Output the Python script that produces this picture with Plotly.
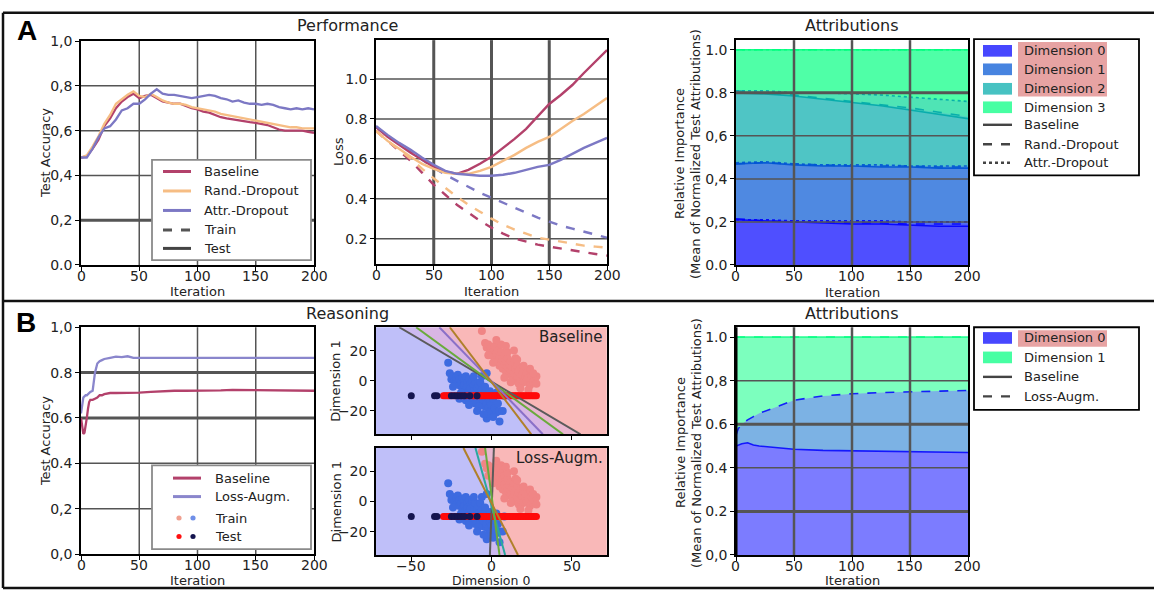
import numpy as np
import plotly.graph_objects as go

W, H = 1154, 599
FONT = "DejaVu Sans"


def fx(x):
    return x / W


def fy(y):
    return 1 - y / H


# ---------------- Panel A: performance ----------------
acc_iter = list(range(0, 201, 5))
acc_baseline = [0.48, 0.485, 0.52, 0.56, 0.62, 0.655, 0.70, 0.73, 0.75, 0.765, 0.745, 0.755, 0.76, 0.745,
                0.73, 0.725, 0.72, 0.72, 0.71, 0.70, 0.695, 0.685, 0.68, 0.67, 0.66, 0.655, 0.65, 0.648,
                0.64, 0.638, 0.635, 0.63, 0.625, 0.615, 0.605, 0.60, 0.60, 0.598, 0.60, 0.595, 0.59]
acc_rand = [0.48, 0.49, 0.53, 0.575, 0.63, 0.67, 0.72, 0.74, 0.76, 0.775, 0.755, 0.75, 0.765, 0.75,
            0.735, 0.725, 0.72, 0.72, 0.715, 0.705, 0.70, 0.695, 0.69, 0.685, 0.675, 0.67, 0.665, 0.66,
            0.655, 0.65, 0.645, 0.64, 0.635, 0.63, 0.625, 0.62, 0.615, 0.615, 0.61, 0.61, 0.61]
acc_attr = [0.48, 0.48, 0.52, 0.57, 0.61, 0.62, 0.65, 0.69, 0.70, 0.72, 0.72, 0.74, 0.765, 0.785,
            0.765, 0.76, 0.76, 0.755, 0.75, 0.745, 0.75, 0.755, 0.76, 0.755, 0.745, 0.74, 0.73, 0.735,
            0.725, 0.72, 0.72, 0.715, 0.72, 0.715, 0.705, 0.70, 0.695, 0.70, 0.695, 0.70, 0.695]

loss_iter = list(range(0, 201, 10))
test_loss_baseline = [0.76, 0.71, 0.67, 0.63, 0.595, 0.56, 0.535, 0.525, 0.545, 0.575, 0.61, 0.655,
                      0.70, 0.75, 0.81, 0.875, 0.92, 0.97, 1.03, 1.09, 1.145]
test_loss_rand = [0.74, 0.69, 0.65, 0.61, 0.575, 0.55, 0.53, 0.525, 0.525, 0.54, 0.56, 0.59, 0.62,
                  0.655, 0.685, 0.71, 0.75, 0.79, 0.825, 0.865, 0.905]
test_loss_attr = [0.765, 0.72, 0.68, 0.645, 0.605, 0.57, 0.54, 0.525, 0.52, 0.515, 0.515, 0.52, 0.53,
                  0.545, 0.56, 0.57, 0.595, 0.625, 0.655, 0.68, 0.705]
train_loss_baseline = [0.74, 0.69, 0.64, 0.59, 0.53, 0.47, 0.42, 0.37, 0.33, 0.29, 0.255, 0.225, 0.20,
                       0.185, 0.17, 0.16, 0.15, 0.14, 0.13, 0.123, 0.115]
train_loss_rand = [0.74, 0.69, 0.645, 0.60, 0.55, 0.50, 0.455, 0.41, 0.37, 0.335, 0.30, 0.27, 0.245,
                   0.225, 0.205, 0.195, 0.185, 0.175, 0.165, 0.16, 0.155]
train_loss_attr = [0.76, 0.715, 0.675, 0.635, 0.595, 0.555, 0.52, 0.49, 0.46, 0.43, 0.405, 0.38, 0.355,
                   0.33, 0.305, 0.285, 0.265, 0.25, 0.235, 0.22, 0.205]

attr_iter = [0, 25, 50, 75, 100, 125, 150, 175, 200]
base_dim0 = [0.21, 0.205, 0.20, 0.195, 0.19, 0.19, 0.185, 0.18, 0.18]
base_dim1 = [0.26, 0.27, 0.265, 0.265, 0.27, 0.265, 0.27, 0.27, 0.27]
base_dim2 = [0.33, 0.32, 0.32, 0.31, 0.295, 0.285, 0.265, 0.25, 0.23]
base_dim3 = [0.20, 0.205, 0.215, 0.23, 0.245, 0.26, 0.28, 0.30, 0.32]
rand_dim0 = [0.215, 0.205, 0.20, 0.20, 0.195, 0.195, 0.19, 0.19, 0.19]
rand_dim1 = [0.255, 0.27, 0.27, 0.265, 0.265, 0.265, 0.27, 0.265, 0.265]
rand_dim2 = [0.34, 0.325, 0.32, 0.31, 0.30, 0.285, 0.27, 0.255, 0.235]
rand_dim3 = [0.19, 0.20, 0.21, 0.225, 0.24, 0.255, 0.27, 0.29, 0.31]
attr_dim0 = [0.21, 0.21, 0.205, 0.205, 0.205, 0.205, 0.20, 0.20, 0.20]
attr_dim1 = [0.265, 0.27, 0.265, 0.26, 0.26, 0.26, 0.26, 0.26, 0.26]
attr_dim2 = [0.335, 0.33, 0.33, 0.335, 0.33, 0.325, 0.32, 0.31, 0.30]
attr_dim3 = [0.19, 0.19, 0.20, 0.20, 0.205, 0.21, 0.22, 0.23, 0.24]

# ---------------- Panel B: reasoning ----------------
b_iter = [0, 1, 2, 3, 4, 5, 6, 7, 8, 10, 12, 14, 16, 18, 20, 25, 30, 35, 40, 45, 50, 60, 70, 80, 90,
          100, 110, 120, 130, 140, 150, 160, 170, 180, 190, 200]
b_acc_baseline = [0.60, 0.55, 0.53, 0.535, 0.56, 0.60, 0.64, 0.67, 0.68, 0.68, 0.685, 0.69, 0.70, 0.70,
                  0.705, 0.71, 0.71, 0.71, 0.712, 0.71, 0.712, 0.715, 0.718, 0.72, 0.72, 0.72, 0.722,
                  0.722, 0.724, 0.723, 0.722, 0.722, 0.72, 0.72, 0.72, 0.72]
b_acc_lossaugm = [0.62, 0.66, 0.69, 0.695, 0.70, 0.70, 0.705, 0.71, 0.715, 0.72, 0.80, 0.84, 0.85, 0.855,
                  0.86, 0.865, 0.87, 0.868, 0.872, 0.865, 0.865, 0.865, 0.865, 0.866, 0.866, 0.866,
                  0.866, 0.866, 0.866, 0.866, 0.866, 0.865, 0.865, 0.866, 0.866, 0.865]

# training points (Dimension 0, Dimension 1)
train0_d0 = [-27, -26, -25, -24, -23, -22, -22, -21, -20, -20, -19, -18, -18, -17, -17, -16, -16, -15,
             -15, -14, -14, -13, -13, -12, -12, -11, -11, -10, -10, -9, -9, -8, -8, -7, -7, -6, -6, -5,
             -5, -4, -4, -3, -3, -2, -2, -1, 0, 0, 1, 2, 3, 4, 5, 7, 5, -3, -10, -12, -15, -19, -24,
             -11, -7, -4, -1, -6, -8, -13, -16, -2, 1, -14, -9, -5, -20, 8, 3, -3]
train0_d1 = [12, 5, 1, 3, 0, 2, -2, 4, 1, -3, -1, 2, -5, 0, -3, 3, -6, -1, -4, 1, -7, -2, -5, 0, -9,
             -3, -7, -1, -10, -5, -12, -3, -8, -14, -10, -6, -16, -11, -13, -8, -17, -12, -15, -18,
             -10, -14, -20, -16, -12, -18, -21, -15, -20, -20, -27, -25, -15, -13, -10, -8, -4, 3,
             -1, -4, -7, 3, -17, -11, -13, -22, -24, -16, -20, -22, -12, -10, -8, 5]
train1_d0 = [-6, -4, -3, -2, -1, 0, 0, 1, 2, 2, 3, 4, 4, 5, 5, 6, 6, 7, 7, 8, 8, 9, 9, 10, 10, 11, 11,
             12, 12, 13, 13, 14, 14, 15, 15, 16, 16, 17, 17, 18, 18, 19, 20, 20, 21, 22, 22, 23, 24,
             25, 26, 27, 28, 28, 24, 20, 15, 10, 6, 3, 8, 12, 18, 26, 14, 1, -2, 9, 23, 16]
train1_d1 = [33, 25, 22, 24, 20, 22, 17, 19, 23, 15, 18, 20, 13, 16, 10, 19, 12, 14, 8, 17, 11, 13, 6,
             15, 9, 11, 4, 13, 7, 9, 2, 12, 5, 8, 0, 10, 3, 6, -2, 8, 1, 4, 7, -1, 3, 5, 0, 2, -3, 3,
             -1, 1, -2, 3, 8, 10, 15, 19, 24, 27, 2, -1, -5, 5, 20, 12, 17, 23, -6, 14]

# test points lie on Dimension 1 = -10
TEST_D1 = -10
test1_d0 = [-30, -29, -28, -27, -26, -24, -22, -20, -18, -16, -14, -12, -11, -10, -9, -8, -7, -6, -5,
            -4, -3, -2, -1, 0, 1, 2, 3, 4, 5, 6, 7, 8, 9, 10, 11, 12, 13, 14, 15, 16, 17, 18, 19, 20,
            21, 22, 23, 24, 25, 26, 27, 28]
test0_d0 = [-50, -35.5, -34, -25, -23, -21, -19, -17, -13.5, -9]

# decision boundaries: Dimension 0 where each boundary meets the top / bottom edge
Y_TOP, Y_BOT = 35.5, -35.5
bnd_base_top = [-57.5, -47, -32.5, -26]
bnd_base_bot = [55.5, 44.6, 32, 24.8]
bnd_base_col = ["#5b5b5b", "#6aaa3c", "#8a70c8", "#b0802a"]
bnd_aug_top = [1.5, -10, -4, -17.5]
bnd_aug_bot = [-1.0, 8.5, 5, 16.5]
bnd_aug_col = ["#5b5b5b", "#2aa8a0", "#6aaa3c", "#b0802a"]

# attribution shares, panel B
b_attr_iter = [0, 2, 5, 10, 15, 20, 30, 40, 50, 75, 100, 125, 150, 175, 200]
b_base_dim0 = [0.50, 0.505, 0.51, 0.515, 0.505, 0.50, 0.495, 0.49, 0.485, 0.48, 0.478, 0.475, 0.473,
               0.472, 0.47]
b_aug_dim0 = [0.55, 0.58, 0.60, 0.62, 0.635, 0.65, 0.67, 0.69, 0.71, 0.73, 0.74, 0.745, 0.75, 0.752,
              0.755]

# ---------------- styling ----------------
C_BASE = "#b3416b"
C_RAND = "#f6bd84"
C_ATTR = "#7c78c4"
C_AUG = "#8a86cc"
WINTER = [(0, 0, 255), (0, 85, 212), (0, 170, 170), (0, 255, 128)]


def rgba(c, a):
    return "rgba(%d,%d,%d,%.2f)" % (c[0], c[1], c[2], a)


fig = go.Figure()
shapes = []
annots = []

AXES = {
    1: dict(x=(81, 314), y=(34, 264), xr=[0, 200], yr=[0, 1.0]),
    2: dict(x=(376, 607), y=(33, 263), xr=[0, 200], yr=[0.073, 1.195]),
    3: dict(x=(736, 968), y=(33, 264), xr=[0, 200], yr=[0, 1.045]),
    4: dict(x=(81, 314), y=(328, 561), xr=[0, 200], yr=[0, 1.0]),
    5: dict(x=(376, 607), y=(328, 438), xr=[-72, 72], yr=[Y_BOT, Y_TOP]),
    6: dict(x=(376, 607), y=(452, 562), xr=[-72, 72], yr=[Y_BOT, Y_TOP]),
    7: dict(x=(736, 968), y=(328, 562), xr=[0, 200], yr=[0, 1.045]),
}

tickfont = dict(family=FONT, size=14, color="#222")
yticks = {
    1: ([0, 0.2, 0.4, 0.6, 0.8, 1.0], ["0.0", "0,2", "0,4", "0,6", "0,8", "1,0"]),
    2: ([0.2, 0.4, 0.6, 0.8, 1.0], ["0.2", "0.4", "0.6", "0.8", "1.0"]),
    3: ([0, 0.2, 0.4, 0.6, 0.8, 1.0], ["0.0", "0,2", "0,4", "0,6", "0.8", "1.0"]),
    4: ([0, 0.2, 0.4, 0.6, 0.8, 1.0], ["0,0", "0,2", "0.4", "0.6", "0.8", "1,0"]),
    5: ([-20, 0, 20], ["\u221220", "0", "20"]),
    6: ([-20, 0, 20], ["\u221220", "0", "20"]),
    7: ([0, 0.2, 0.4, 0.6, 0.8, 1.0], ["0,0", "0.2", "0.4", "0.6", "0,8", "1.0"]),
}
xticks_iter = [0, 50, 100, 150, 200]
xticks_dim = [-50, 0, 50]

layout_axes = {}
for i, a in AXES.items():
    sx = "" if i == 1 else str(i)
    xv = xticks_dim if i in (5, 6) else xticks_iter
    layout_axes["xaxis" + sx] = dict(
        domain=[fx(a["x"][0]), fx(a["x"][1])], range=a["xr"], anchor="y" + sx,
        showgrid=False, zeroline=False, showline=True, mirror=True, linecolor="black", linewidth=1.5,
        ticks="outside", ticklen=4, tickwidth=1.2, tickcolor="black",
        tickvals=xv, showticklabels=False, layer="above traces", fixedrange=True)
    layout_axes["yaxis" + sx] = dict(
        domain=[fy(a["y"][1]), fy(a["y"][0])], range=a["yr"], anchor="x" + sx,
        showgrid=False, zeroline=False, showline=True, mirror=True, linecolor="black", linewidth=1.5,
        ticks="outside", ticklen=4, tickwidth=1.2, tickcolor="black",
        tickvals=yticks[i][0], ticktext=yticks[i][1], tickfont=tickfont,
        layer="above traces", fixedrange=True)
    # x tick labels, set just under the axis line
    if i != 5:
        for v in xv:
            annots.append(dict(text=str(v).replace("-", "\u2212"), x=v, xref="x" + sx,
                               y=fy(a["y"][1] + 11), yref="paper", showarrow=False,
                               xanchor="center", yanchor="middle", font=tickfont))


def grid(i, xvals, yvals, layer):
    sx = "" if i == 1 else str(i)
    for v, w in xvals:
        shapes.append(dict(type="line", xref="x" + sx, yref="y" + sx + " domain", x0=v, x1=v, y0=0, y1=1,
                           line=dict(color="#555555", width=w), layer=layer))
    for v, w in yvals:
        shapes.append(dict(type="line", xref="x" + sx + " domain", yref="y" + sx, x0=0, x1=1, y0=v, y1=v,
                           line=dict(color="#555555", width=w), layer=layer))


grid(1, [(50, 1.5), (100, 1.5), (150, 1.5)], [(0.2, 3), (0.4, 1.5), (0.6, 1.5), (0.8, 1.5)], "below")
grid(2, [(50, 3), (100, 3), (150, 3)], [(0.2, 1.5), (0.4, 1.5), (0.6, 1.5), (0.8, 1.5), (1.0, 1.5)], "below")
grid(3, [(50, 2.5), (100, 2.5), (150, 2.5)], [(0.2, 1.5), (0.4, 1.5), (0.6, 1.5), (0.8, 3)], "above")
grid(4, [(50, 1.5), (100, 1.5), (150, 1.5)], [(0.2, 1.5), (0.4, 1.5), (0.6, 3), (0.8, 3)], "below")
grid(7, [(50, 2.5), (100, 2.5), (150, 2.5)], [(0.2, 3), (0.4, 1.5), (0.6, 3), (0.8, 1.5)], "above")


def line(i, x, y, color, dash="solid", width=2.0):
    sx = "" if i == 1 else str(i)
    fig.add_trace(go.Scatter(x=x, y=y, mode="lines", line=dict(color=color, dash=dash, width=width),
                             xaxis="x" + sx, yaxis="y" + sx, showlegend=False, hoverinfo="skip"))


# --- accuracy (A) ---
line(1, acc_iter, acc_baseline, C_BASE, width=2.3)
line(1, acc_iter, acc_rand, C_RAND, width=2.3)
line(1, acc_iter, acc_attr, C_ATTR, width=2.3)

# --- loss (A) ---
for ys, c in [(train_loss_baseline, C_BASE), (train_loss_rand, C_RAND), (train_loss_attr, C_ATTR)]:
    line(2, loss_iter, ys, c, dash="dash", width=2.4)
for ys, c in [(test_loss_baseline, C_BASE), (test_loss_rand, C_RAND), (test_loss_attr, C_ATTR)]:
    line(2, loss_iter, ys, c, width=2.4)


# --- stacked attributions ---
def stack(i, x, dims, alpha):
    sx = str(i)
    cum = np.cumsum(np.array(dims, dtype=float), axis=0)
    cols = WINTER if len(dims) == 4 else [WINTER[0], WINTER[3]]
    for k in range(len(dims)):
        fig.add_trace(go.Scatter(x=x, y=cum[k], mode="lines", line=dict(width=0),
                                 fill="tozeroy" if k == 0 else "tonexty",
                                 fillcolor=rgba(cols[k], alpha), xaxis="x" + sx, yaxis="y" + sx,
                                 showlegend=False, hoverinfo="skip"))
    return cum, cols


edges = []
for dims, dash in [([base_dim0, base_dim1, base_dim2, base_dim3], "solid"),
                   ([rand_dim0, rand_dim1, rand_dim2, rand_dim3], "dash"),
                   ([attr_dim0, attr_dim1, attr_dim2, attr_dim3], "dot")]:
    cum, cols = stack(3, attr_iter, dims, 0.32)
    edges.append((cum, cols, dash))
for cum, cols, dash in edges:
    for k in range(4):
        line(3, attr_iter, cum[k], rgba(cols[k], 0.9), dash=dash, width=1.6)

# --- accuracy (B) ---
line(4, b_iter, b_acc_baseline, C_BASE, width=2.3)
line(4, b_iter, b_acc_lossaugm, C_AUG, width=2.3)

# --- attributions (B) ---
b_edges = []
for d0, dash in [(b_base_dim0, "solid"), (b_aug_dim0, "dash")]:
    d1 = [1 - v for v in d0]
    cum, cols = stack(7, b_attr_iter, [d0, d1], 0.3)
    b_edges.append((cum, cols, dash))
for cum, cols, dash in b_edges:
    for k in range(2):
        line(7, b_attr_iter, cum[k], rgba(cols[k], 0.85), dash=dash, width=1.6)
shapes.append(dict(type="line", xref="x7", yref="y7 domain", x0=0, x1=0, y0=0, y1=1,
                   line=dict(color="black", width=3), layer="above"))

# --- decision-boundary scatter plots (B) ---
gx = np.linspace(-72, 72, 480)
gy = np.linspace(Y_BOT, Y_TOP, 240)
GX, GY = np.meshgrid(gx, gy)
region_scale = [[0.0, "#bfbff9"], [0.25, "#ccb9f0"], [0.5, "#d9b6e4"], [0.75, "#e9b6cf"], [1.0, "#f9b8b8"]]

for i, tops, bots, cols in [(5, bnd_base_top, bnd_base_bot, bnd_base_col),
                            (6, bnd_aug_top, bnd_aug_bot, bnd_aug_col)]:
    sx = str(i)
    votes = np.zeros_like(GX)
    for xt, xb in zip(tops, bots):
        xl = xt + (xb - xt) * (Y_TOP - GY) / (Y_TOP - Y_BOT)
        votes += (GX > xl)
    fig.add_trace(go.Heatmap(x=gx, y=gy, z=votes / len(tops), zmin=0, zmax=1, colorscale=region_scale,
                             showscale=False, xaxis="x" + sx, yaxis="y" + sx, hoverinfo="skip"))
    fig.add_trace(go.Scatter(x=train0_d0, y=train0_d1, mode="markers",
                             marker=dict(color="#3d6be0", size=8, line=dict(width=0)),
                             xaxis="x" + sx, yaxis="y" + sx, showlegend=False, hoverinfo="skip"))
    fig.add_trace(go.Scatter(x=train1_d0, y=train1_d1, mode="markers",
                             marker=dict(color="#f08585", size=8, line=dict(width=0)),
                             xaxis="x" + sx, yaxis="y" + sx, showlegend=False, hoverinfo="skip"))
    fig.add_trace(go.Scatter(x=test1_d0, y=[TEST_D1] * len(test1_d0), mode="markers",
                             marker=dict(color="#ff0a0a", size=7, line=dict(width=0)),
                             xaxis="x" + sx, yaxis="y" + sx, showlegend=False, hoverinfo="skip"))
    fig.add_trace(go.Scatter(x=test0_d0, y=[TEST_D1] * len(test0_d0), mode="markers",
                             marker=dict(color="#15154f", size=7, line=dict(width=0)),
                             xaxis="x" + sx, yaxis="y" + sx, showlegend=False, hoverinfo="skip"))
    for xt, xb, c in zip(tops, bots, cols):
        line(i, [xt, xb], [Y_TOP, Y_BOT], c, width=2)


# ---------------- text ----------------
def text(s, x, y, size=13, xanchor="center", yanchor="middle", angle=0, bold=False, family=FONT,
         bg=None, color="#222"):
    annots.append(dict(text=("<b>%s</b>" % s) if bold else s, x=fx(x), y=fy(y), xref="paper",
                       yref="paper", showarrow=False, xanchor=xanchor, yanchor=yanchor, textangle=angle,
                       font=dict(family=family, size=size, color=color), bgcolor=bg))


text("A", 27, 23, size=28, bold=True, family="Liberation Sans", color="black")
text("B", 26, 323, size=28, bold=True, family="Liberation Sans", color="black")
text("Performance", 347, 18, size=16)
text("Attributions", 852, 18, size=16)
text("Reasoning", 347, 314, size=16)
text("Attributions", 852, 314, size=16)

for cx, y in [(197, 291), (491, 291), (852, 292), (197, 588), (852, 588)]:
    text("Iteration", cx, y, size=13)
text("Dimension 0", 491, 588, size=12.5)
text("Test Accuracy", 45, 149, size=13, angle=-90)
text("Test Accuracy", 45, 445, size=13, angle=-90)
text("Loss", 338, 148, size=13, angle=-90)
text("Dimension 1", 336, 383, size=13, angle=-90)
text("Dimension 1", 336, 507, size=13, angle=-90)
for cy in (150, 447):
    text("Relative Importance", 680, cy, size=13, angle=-90)
    text("(Mean of Normalized Test Attributions)", 696, cy, size=13, angle=-90)
text("Baseline", 605, 338, size=15, xanchor="right")
text("Loss-Augm.", 605, 462, size=15, xanchor="right")


# ---------------- legends ----------------
def box(x0, y0, x1, y1, color):
    shapes.append(dict(type="rect", xref="paper", yref="paper", x0=fx(x0), x1=fx(x1), y0=fy(y1), y1=fy(y0),
                       line=dict(color=color, width=1.8), fillcolor="white", layer="above"))


def lsample(x0, x1, y, color, dash="solid", width=3):
    shapes.append(dict(type="line", xref="paper", yref="paper", x0=fx(x0), x1=fx(x1), y0=fy(y), y1=fy(y),
                       line=dict(color=color, width=width, dash=dash), layer="above"))


def patch(x0, x1, y, color):
    shapes.append(dict(type="rect", xref="paper", yref="paper", x0=fx(x0), x1=fx(x1), y0=fy(y + 6),
                       y1=fy(y - 6), line=dict(width=0), fillcolor=color, layer="above"))


def dot(x, y, color, r=2.6):
    shapes.append(dict(type="circle", xref="paper", yref="paper", x0=fx(x - r), x1=fx(x + r), y0=fy(y + r),
                       y1=fy(y - r), line=dict(width=0), fillcolor=color, layer="above"))


# performance legend
box(152, 156, 311, 259, "#8a8a8a")
for y, c, d, lab in [(168, C_BASE, "solid", "Baseline"), (188, C_RAND, "solid", "Rand.-Dropout"),
                     (208, C_ATTR, "solid", "Attr.-Dropout"), (228, "#555555", "dash", "Train"),
                     (247, "#444444", "solid", "Test")]:
    lsample(163, 191, y, c, d)
    text(lab, 202, y, size=13, xanchor="left")

# attribution legend (A)
box(974, 32, 1139, 172, "black")
shapes.append(dict(type="rect", xref="paper", yref="paper", x0=fx(1018), x1=fx(1107), y0=fy(91), y1=fy(35),
                   line=dict(width=0), fillcolor="#e7a3a3", layer="above"))
for k, y in enumerate([44, 63, 83, 102]):
    patch(983, 1012, y, rgba(WINTER[k], 0.72))
    text("Dimension %d" % k, 1022, y, size=13, xanchor="left")
for y, d, lab in [(120, "solid", "Baseline"), (140, "dash", "Rand.-Dropout"), (159, "dot", "Attr.-Dropout")]:
    lsample(983, 1012, y, "#444444", d, width=2.4)
    text(lab, 1022, y, size=13, xanchor="left")

# reasoning legend
box(152, 470, 311, 556, "#8a8a8a")
lsample(173, 201, 483, C_BASE)
text("Baseline", 213, 483, size=13, xanchor="left")
lsample(173, 201, 502, C_AUG)
text("Loss-Augm.", 213, 502, size=13, xanchor="left")
dot(179, 524, "#f0a090")
dot(193, 524, "#6f8fe8")
text("Train", 213, 524, size=13, xanchor="left")
dot(179, 543, "#ff1010")
dot(193, 543, "#15154f")
text("Test", 213, 543, size=13, xanchor="left")

# attribution legend (B)
box(974, 328, 1139, 413, "black")
shapes.append(dict(type="rect", xref="paper", yref="paper", x0=fx(1018), x1=fx(1107), y0=fy(348), y1=fy(331),
                   line=dict(width=0), fillcolor="#e7a3a3", layer="above"))
patch(983, 1012, 339, rgba(WINTER[0], 0.72))
text("Dimension 0", 1022, 339, size=13, xanchor="left")
patch(983, 1012, 359, rgba(WINTER[3], 0.72))
text("Dimension 1", 1022, 359, size=13, xanchor="left")
lsample(983, 1012, 379, "#444444", "solid", width=2.4)
text("Baseline", 1022, 379, size=13, xanchor="left")
lsample(983, 1012, 399, "#444444", "dash", width=2.4)
text("Loss-Augm.", 1022, 399, size=13, xanchor="left")

# outer frame and panel separator
for x0, y0, x1, y1 in [(3, 5, 1160, 5), (3, 5, 3, 596), (3, 596, 1160, 596), (3, 301, 1160, 301)]:
    shapes.append(dict(type="line", xref="paper", yref="paper", x0=fx(x0), x1=fx(x1), y0=fy(y0), y1=fy(y1),
                       line=dict(color="#111111", width=2.5), layer="above"))

fig.update_layout(
    width=W, height=H, margin=dict(l=0, r=0, t=0, b=0, pad=0),
    paper_bgcolor="white", plot_bgcolor="white", showlegend=False,
    font=dict(family=FONT, size=13, color="#222"),
    shapes=shapes, annotations=annots, **layout_axes)

fig.write_html("out.html")
